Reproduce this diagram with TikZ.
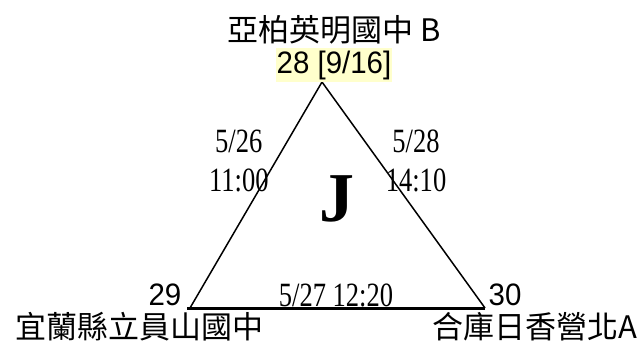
\documentclass[tikz,border=0pt]{standalone}
\usepackage{fontspec}
\setmainfont{Liberation Serif}
\newfontfamily\cjk{Noto Sans CJK TC}
\newfontfamily\narrow[FakeStretch=0.95]{Liberation Sans}
\newfontfamily\tnarrow[FakeStretch=0.78]{Liberation Serif}
\usetikzlibrary{calc}
\definecolor{hilite}{RGB}{255,255,204}
\tikzset{
    school/.style={font=\cjk\fontsize{31}{33}\selectfont, inner sep=0pt},
    seed/.style={font=\narrow\fontsize{31}{33}\selectfont, inner sep=0pt},
    elabel/.style={font=\tnarrow\fontsize{34}{39}\selectfont, align=center, inner sep=0pt}
}

\begin{document}
\begin{tikzpicture}[x=1pt,y=-1pt]
\useasboundingbox (0,0) rectangle (644,345);
\coordinate (T) at (322,82);
\coordinate (L) at (190,308);
\coordinate (R) at (485,308);
\draw[line width=1.5pt] (T) -- node[elabel,pos=0.35,xshift=-37pt]{5/26\\11:00} (L);
\draw[line width=1.5pt] (T) -- node[elabel,pos=0.35,xshift=37pt]{5/28\\14:10} (R);
\draw[line width=3pt] (187,308) -- node[elabel,pos=0.5,yshift=13pt]{5/27 12:20} (R);
\node[font=\bfseries\fontsize{70}{70}\selectfont] (grp) at (337,199) {J};
\node[school] (tname) at (334,30) {亞柏英明國中 B};
\node[seed,fill=hilite,inner xsep=1pt,inner ysep=3pt] (tseed) at (334,65) {28 [9/16]};
\node[seed] (lseed) at (165,295) {29};
\node[seed] (rseed) at (505,295) {30};
\node[school] (lname) at (139,327) {宜蘭縣立員山國中};
\node[school] (rname) at (535,327) {合庫日香營北A};
\end{tikzpicture}
\end{document}
